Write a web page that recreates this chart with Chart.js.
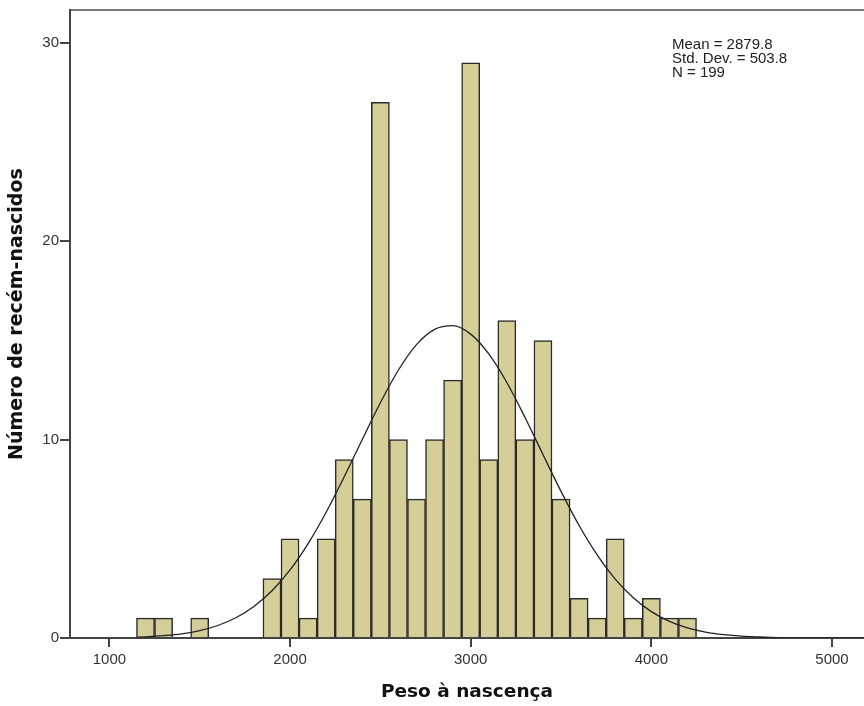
<!DOCTYPE html>
<html>
  <head>
    <title>Histograma</title>
    <script src="https://cdn.jsdelivr.net/npm/chart.js"></script>
    <style>
      body { margin: 0; background: #ffffff; }
    </style>
  </head>

  <body>
    <canvas id="histograma" width="864" height="706"></canvas>

    <script>
      // centro de cada classe (100 g) e número de recém-nascidos
      var classes = [1200, 1300, 1500, 1900, 2000, 2100, 2200, 2300, 2400, 2500, 2600, 2700, 2800, 2900,
        3000, 3100, 3200, 3300, 3400, 3500, 3600, 3700, 3800, 3900, 4000, 4100, 4200];
      var contagens = [1, 1, 1, 3, 5, 1, 5, 9, 7, 27, 10, 7, 10, 13,
        29, 9, 16, 10, 15, 7, 2, 1, 5, 1, 2, 1, 1];

      // curva normal
      var curvaX = [1150, 1200, 1300, 1400, 1500, 1600, 1700, 1800, 1900, 2000, 2100, 2200, 2300, 2400,
        2500, 2600, 2700, 2800, 2900, 3000, 3100, 3200, 3300, 3400, 3500, 3600, 3700, 3800, 3900,
        4000, 4100, 4200, 4300, 4400, 4500, 4600, 4700, 4800, 4900, 5000, 5100, 5180];
      var curvaY = [0.04, 0.06, 0.12, 0.21, 0.37, 0.63, 1.02, 1.59, 2.38, 3.43, 4.76, 6.34, 8.13, 10.01,
        11.86, 13.51, 14.79, 15.56, 15.75, 15.32, 14.32, 12.88, 11.13, 9.25, 7.39, 5.67, 4.19, 2.97, 2.03,
        1.33, 0.84, 0.51, 0.30, 0.17, 0.09, 0.05, 0.02, 0.01, 0.01, 0, 0, 0];

      var ticksX = [1000, 2000, 3000, 4000, 5000];
      var ticksY = [0, 10, 20, 30];
      var estatisticas = ["Mean = 2879.8", "Std. Dev. = 503.8", "N = 199"];

      var cinza = "#444444";

      var textoEstatisticas = {
        id: "textoEstatisticas",
        afterDraw: function (chart) {
          var ctx = chart.ctx;
          ctx.save();
          ctx.font = '15px "Liberation Sans"';
          ctx.fillStyle = "#222222";
          ctx.textBaseline = "middle";
          ctx.textAlign = "left";
          estatisticas.forEach(function (t, i) {
            ctx.fillText(t, 672, 45 + i * 14);
          });
          ctx.restore();
        },
      };

      var histograma = new Chart(document.getElementById("histograma").getContext("2d"), {
        type: "bar",
        data: {
          datasets: [
            {
              type: "line",
              data: curvaX.map((x, i) => ({ x: x, y: curvaY[i] })),
              borderColor: "#222222",
              borderWidth: 1.3,
              pointRadius: 0,
              cubicInterpolationMode: "monotone",
              fill: false,
              order: 0,
            },
            {
              type: "bar",
              data: classes.map((x, i) => ({ x: x, y: contagens[i] })),
              backgroundColor: "#D4CF98",
              borderColor: "#2b2b2b",
              borderWidth: 1.5,
              barPercentage: 1,
              categoryPercentage: 1,
              order: 1,
            },
          ],
        },
        options: {
          responsive: false,
          animation: false,
          layout: { padding: 0 },
          plugins: {
            legend: { display: false },
            tooltip: { enabled: false },
          },
          scales: {
            x: {
              type: "linear",
              position: "bottom",
              offset: false,
              min: 782,
              max: 5177,
              afterBuildTicks: (s) => {
                s.ticks = ticksX.map((v) => ({ value: v }));
              },
              afterFit: (s) => {
                s.height = 68;
              },
              grid: {
                display: true,
                offset: false,
                drawOnChartArea: false,
                drawTicks: true,
                tickLength: 9,
                tickColor: cinza,
                tickWidth: 2,
                color: cinza,
                lineWidth: 2,
              },
              border: { display: true, color: cinza, width: 2 },
              ticks: {
                color: "#333333",
                padding: 4,
                maxRotation: 0,
                font: { family: "Liberation Sans", size: 15 },
                callback: (v) => String(v),
              },
              title: {
                display: true,
                text: "Peso à nascença",
                color: "#111111",
                font: { family: "DejaVu Sans", size: 18.5, weight: "bold" },
                padding: { top: 0, bottom: 3 },
              },
            },
            xTopo: {
              type: "linear",
              position: "top",
              offset: false,
              min: 782,
              max: 5177,
              afterFit: (s) => {
                s.height = 7;
              },
              grid: { display: false, drawTicks: false },
              ticks: { display: false },
              border: { display: true, color: "#777777", width: 2 },
            },
            y: {
              min: 0,
              max: 31.66,
              afterBuildTicks: (s) => {
                s.ticks = ticksY.map((v) => ({ value: v }));
              },
              afterFit: (s) => {
                s.width = 70;
              },
              grid: {
                display: true,
                drawOnChartArea: false,
                drawTicks: true,
                tickLength: 10,
                tickColor: cinza,
                tickWidth: 2,
                color: cinza,
                lineWidth: 2,
              },
              border: { display: true, color: cinza, width: 2 },
              ticks: {
                color: "#333333",
                padding: 1,
                font: { family: "Liberation Sans", size: 15 },
              },
              title: {
                display: true,
                text: "\u00a0\u00a0\u00a0Número de recém-nascidos",
                color: "#111111",
                font: { family: "DejaVu Sans", size: 19, weight: "bold" },
                padding: { top: 6, bottom: 0 },
              },
            },
          },
        },
        plugins: [textoEstatisticas],
      });
    </script>
  </body>
</html>
